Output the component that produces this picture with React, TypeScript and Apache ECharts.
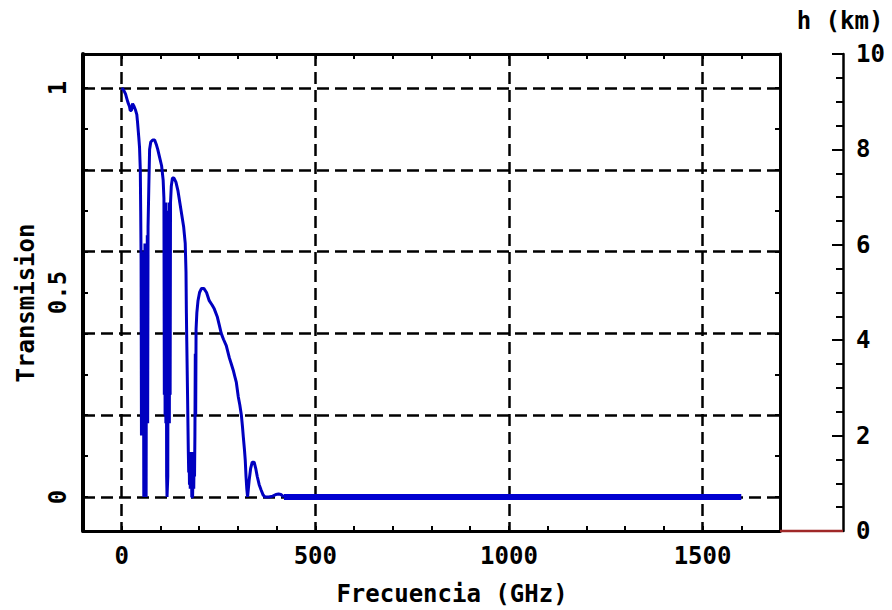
import { useEffect, useRef } from 'react';
import * as echarts from 'echarts';

// Atmospheric transmission versus frequency (GHz)
const freqGHz = [
  0, 5, 10, 13, 16, 20, 22, 25, 28, 32, 36, 39, 41, 44, 46, 48,
  49, 50, 51, 52, 53, 54, 55, 56, 57, 58, 59, 60, 61, 62, 63, 64, 65, 66, 67, 68, 70, 72,
  75, 80, 85, 90, 93, 98, 103, 107,
  109, 110, 111, 112, 113, 114, 115, 116, 117, 118, 119, 120, 121, 122, 123, 124, 125, 126, 128,
  131, 135, 140, 145, 150, 155, 160, 164, 166, 167, 168, 170,
  172, 173, 174, 175, 176, 177, 178, 179, 180, 181, 183, 184, 185, 186, 187, 188, 189, 190, 191, 192,
  194, 197, 201, 206, 212, 219, 226, 233, 239, 247, 252, 257, 263, 270, 278, 283, 288, 292, 296,
  301, 305, 309, 312, 314, 317, 319, 321, 323, 325, 327, 329, 333, 337, 342, 346, 350, 355, 360,
  365, 370, 380, 390, 398, 405, 411, 419,
];
const transmission = [
  1.0, 0.995, 0.985, 0.975, 0.965, 0.955, 0.945, 0.945, 0.962, 0.955, 0.945, 0.935, 0.915, 0.88, 0.855, 0.8,
  0.7, 0.58, 0.15, 0.55, 0.2, 0.58, 0.17, 0.6, 0.0, 0.55, 0.18, 0.62, 0.16, 0.6, 0.0, 0.62, 0.2, 0.64, 0.18, 0.66, 0.76, 0.85,
  0.868, 0.873, 0.873, 0.86, 0.85, 0.83, 0.81, 0.775,
  0.73, 0.25, 0.7, 0.2, 0.72, 0.18, 0.7, 0.05, 0.0, 0.0, 0.05, 0.68, 0.2, 0.72, 0.18, 0.7, 0.25, 0.72, 0.76,
  0.78, 0.78, 0.77, 0.75, 0.72, 0.69, 0.66, 0.62, 0.55, 0.45, 0.38, 0.25,
  0.11, 0.06, 0.11, 0.03, 0.1, 0.02, 0.11, 0.04, 0.1, 0.0, 0.0, 0.05, 0.11, 0.02, 0.1, 0.05, 0.15, 0.35, 0.2, 0.41,
  0.45, 0.48, 0.5, 0.51, 0.51, 0.5, 0.48, 0.47, 0.46, 0.44, 0.42, 0.4, 0.385, 0.37, 0.34, 0.325, 0.31, 0.295, 0.28,
  0.245, 0.225, 0.2, 0.17, 0.147, 0.115, 0.09, 0.05, 0.02, 0.0, 0.02, 0.04, 0.07, 0.085, 0.085, 0.07, 0.05, 0.03, 0.017,
  0.005, 0.0, 0.0, 0.002, 0.006, 0.007, 0.006, 0.0,
];

// Opaque high-frequency range
const tailFreqGHz = [419, 1600];
const tailTransmission = [0, 0];

// Altitude profile h (km)
const hProfileX = [0, 1];
const hProfileKm = [0, 0];

// Axis ticks, labels and grid lines
const xTickValues = [0, 100, 200, 300, 400, 500, 600, 700, 800, 900, 1000, 1100, 1200, 1300, 1400, 1500, 1600];
const xLabelValues = [0, 500, 1000, 1500];
const xGridValues = [0, 500, 1000, 1500];
const yTickValues = [0, 0.1, 0.2, 0.3, 0.4, 0.5, 0.6, 0.7, 0.8, 0.9, 1];
const yLabelValues = [0, 0.5, 1];
const yGridValues = [0, 0.2, 0.4, 0.6, 0.8, 1];

const FONT = '"DejaVu Sans Mono", "Liberation Mono", monospace';
const labelText = { fontFamily: FONT, fontWeight: 'bold' as const, fontSize: 24, color: '#000' };
const plain = (v: number) => String(v);
const frameLine = (width: number) => ({ show: true, onZero: false, lineStyle: { color: '#000', width } });
const innerTicks = (values: number[]) => ({
  show: true,
  inside: true,
  length: 5,
  customValues: values,
  lineStyle: { color: '#000', width: 2 },
});
const gridDash = { show: true, lineStyle: { color: '#000', width: 2.5, type: [12, 6] as number[] } };

export default function App() {
  const ref = useRef<HTMLDivElement>(null);

  useEffect(() => {
    if (!ref.current) return;
    const chart = echarts.init(ref.current, undefined, { renderer: 'svg' });
    const yMin = -1 / 12;
    const yMax = 13 / 12;

    chart.setOption({
      animation: false,
      backgroundColor: '#fff',
      grid: [
        { left: 83, top: 54, width: 697, height: 477 },
        { left: 780, top: 54, width: 63, height: 477 },
      ],
      xAxis: [
        {
          gridIndex: 0, type: 'value', min: -100, max: 1700, position: 'bottom',
          axisLine: frameLine(3),
          axisTick: innerTicks(xTickValues),
          axisLabel: { show: true, customValues: xLabelValues, margin: 13, formatter: plain, ...labelText },
          splitLine: { show: false },
        },
        {
          gridIndex: 0, type: 'value', min: -100, max: 1700, position: 'top',
          axisLine: frameLine(3),
          axisTick: innerTicks(xTickValues),
          axisLabel: { show: false },
          splitLine: { show: false },
        },
        {
          gridIndex: 0, type: 'value', min: -100, max: 1700, position: 'bottom',
          axisLine: { show: false, onZero: false },
          axisTick: { show: false, customValues: xGridValues },
          axisLabel: { show: false },
          splitLine: gridDash,
        },
        { gridIndex: 1, type: 'value', min: 0, max: 1, show: false },
      ],
      yAxis: [
        {
          gridIndex: 0, type: 'value', min: yMin, max: yMax, position: 'left',
          axisLine: frameLine(4),
          axisTick: innerTicks(yTickValues),
          axisLabel: { show: true, customValues: yLabelValues, rotate: 90, margin: 13, formatter: plain, ...labelText },
          splitLine: { show: false },
        },
        {
          gridIndex: 0, type: 'value', min: yMin, max: yMax, position: 'right',
          axisLine: frameLine(3),
          axisTick: innerTicks(yTickValues),
          axisLabel: { show: false },
          splitLine: { show: false },
        },
        {
          gridIndex: 0, type: 'value', min: yMin, max: yMax, position: 'left',
          axisLine: { show: false, onZero: false },
          axisTick: { show: false, customValues: yGridValues },
          axisLabel: { show: false },
          splitLine: gridDash,
        },
        {
          gridIndex: 1, type: 'value', min: 0, max: 10, interval: 2, position: 'right',
          axisLine: frameLine(2.5),
          axisTick: { show: true, inside: true, length: 11, lineStyle: { color: '#000', width: 2 } },
          minorTick: { show: true, splitNumber: 4, length: 7, lineStyle: { color: '#000', width: 2 } },
          axisLabel: { show: true, margin: 13, formatter: plain, ...labelText },
          splitLine: { show: false },
        },
      ],
      graphic: [
        {
          type: 'text', x: 26, y: 303, rotation: Math.PI / 2,
          style: { text: 'Transmision', font: `bold 24px ${FONT}`, fill: '#000', align: 'center', verticalAlign: 'middle' },
        },
        {
          type: 'text', x: 452, y: 594,
          style: { text: 'Frecuencia (GHz)', font: `bold 24px ${FONT}`, fill: '#000', align: 'center', verticalAlign: 'middle' },
        },
        {
          type: 'text', x: 840, y: 21,
          style: { text: 'h (km)', font: `bold 24px ${FONT}`, fill: '#000', align: 'center', verticalAlign: 'middle' },
        },
      ],
      series: [
        {
          name: 'Transmision',
          type: 'line',
          xAxisIndex: 0, yAxisIndex: 0,
          symbol: 'none',
          z: 5,
          lineStyle: { color: '#0000c0', width: 3 },
          data: freqGHz.map((f, i) => [f, transmission[i]]),
        },
        {
          name: 'Transmision (opaco)',
          type: 'line',
          xAxisIndex: 0, yAxisIndex: 0,
          symbol: 'none',
          z: 5,
          lineStyle: { color: '#0000d0', width: 6 },
          data: tailFreqGHz.map((f, i) => [f, tailTransmission[i]]),
        },
        {
          name: 'h',
          type: 'line',
          xAxisIndex: 3, yAxisIndex: 3,
          symbol: 'none',
          clip: false,
          lineStyle: { color: '#a02828', width: 2.5 },
          data: hProfileX.map((x, i) => [x, hProfileKm[i]]),
        },
      ],
    });

    return () => chart.dispose();
  }, []);

  return (
    <div
      ref={ref}
      style={{ position: 'fixed', left: 0, top: 0, width: 892, height: 610, background: '#fff' }}
    />
  );
}
